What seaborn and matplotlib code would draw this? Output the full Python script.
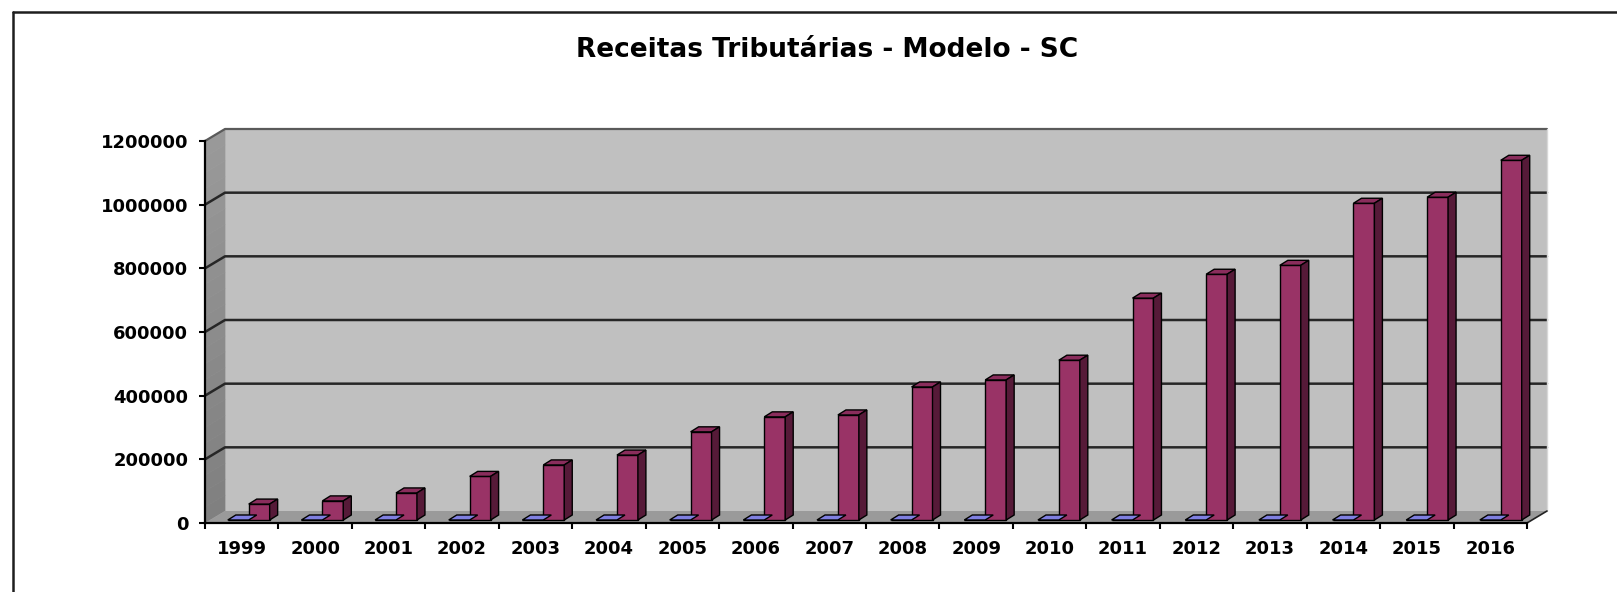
import matplotlib
matplotlib.use("Agg")
import matplotlib.pyplot as plt
from matplotlib.patches import Polygon, Rectangle
from matplotlib.lines import Line2D
from matplotlib.ticker import FixedLocator, NullFormatter
import seaborn as sns
import pandas as pd

# Data
anos = ["1999", "2000", "2001", "2002", "2003", "2004", "2005", "2006", "2007",
        "2008", "2009", "2010", "2011", "2012", "2013", "2014", "2015", "2016"]
serie_base = [0, 0, 0, 0, 0, 0, 0, 0, 0, 0, 0, 0, 0, 0, 0, 0, 0, 0]
receitas = [50000, 60000, 85000, 137000, 173000, 204000, 277000, 324000, 330000,
            418000, 440000, 502000, 697000, 772000, 800000, 995000, 1014000, 1130000]
y_ticks = [0, 200000, 400000, 600000, 800000, 1000000, 1200000]
titulo = "Receitas Tributárias - Modelo - SC"

W, H, DPI = 1617, 592, 100

df = pd.DataFrame({
    "ano": anos * 2,
    "valor": serie_base + receitas,
    "serie": ["base"] * len(anos) + ["receita"] * len(anos),
})

sns.set_style("white")
plt.rcParams["font.family"] = ["DejaVu Sans"]
plt.rcParams["font.weight"] = "bold"
plt.rcParams["text.color"] = "black"
plt.rcParams["xtick.color"] = "black"
plt.rcParams["ytick.color"] = "black"

fig = plt.figure(figsize=(W / DPI, H / DPI), dpi=DPI)
ax = fig.add_axes([205 / W, 1 - 523 / H, (1527 - 205) / W, (523 - 141) / H])
ax.set_facecolor("none")

cores = {"base": "#9999ff", "receita": "#993366"}
topos = {"base": "#7f7fe0", "receita": "#8a2d5c"}
lados = {"base": "#5555aa", "receita": "#561a38"}

sns.barplot(data=df, x="ano", y="valor", hue="serie", palette=cores,
            width=0.57, dodge=True, legend=False, ax=ax,
            edgecolor="black", linewidth=1.0, saturation=1, zorder=5)

n = len(anos)
ax.set_xlim(-0.5, n - 0.5)
ax.set_ylim(0, 1200000)

# pixel -> data conversion (axes geometry is fixed)
p0 = ax.transData.transform((0, 0))
p1 = ax.transData.transform((1, 1))
px_x = p1[0] - p0[0]
px_y = p1[1] - p0[1]


def off(dx, dy):
    return dx / px_x, dy / px_y


# back wall, left wall and floor
bx, by = off(20, 12)
x0, x1 = -0.5, n - 0.5
ytop = 1200000
ax.add_patch(Rectangle((x0 + bx, by), n, ytop, facecolor="#c0c0c0",
                       edgecolor="none", zorder=0, clip_on=False))
# left wall with a light vertical gradient
faixas = 24
for k in range(faixas):
    ya = ytop * k / faixas
    yb = ytop * (k + 1) / faixas
    g = 0.50 + 0.10 * (k / (faixas - 1))
    ax.add_patch(Polygon([(x0, ya), (x0, yb), (x0 + bx, yb + by), (x0 + bx, ya + by)],
                         closed=True, facecolor=(g, g, g), edgecolor=(g, g, g),
                         lw=0.5, zorder=1, clip_on=False))
ax.add_patch(Polygon([(x0, 0), (x1, 0), (x1 + bx, by), (x0 + bx, by)],
                     closed=True, facecolor="#9a9a9a", edgecolor="none",
                     zorder=1.1, clip_on=False))
ax.add_line(Line2D([x1, x1 + bx], [0, by], color="#222222", lw=1.2,
                   zorder=2, clip_on=False))
ax.add_line(Line2D([x1 + bx, x1 + bx], [by, ytop + by], color="#d8d8d8", lw=1.0,
                   zorder=1.5, clip_on=False))

# gridlines running across the left wall and the back wall
for v in y_ticks[1:-1]:
    ax.add_line(Line2D([x0, x0 + bx, x1 + bx], [v, v + by, v + by],
                       color="#262626", lw=1.8, zorder=1.2, clip_on=False))
ax.add_line(Line2D([x0, x0 + bx, x1 + bx], [ytop, ytop + by, ytop + by],
                   color="#5a5a5a", lw=1.6, zorder=1.2, clip_on=False))

# shift the columns to mid-depth and add their top and side faces
dx, dy = off(8, 5)
for nome, cont in zip(["base", "receita"], ax.containers):
    for i, bar in enumerate(cont):
        sx, sy = off(7 + 3.5 * i / (n - 1), 3)
        bar.set_x(bar.get_x() + sx)
        bar.set_y(sy)
        bar.set_clip_on(False)
        a = bar.get_x()
        b = a + bar.get_width()
        y0 = bar.get_y()
        t = y0 + bar.get_height()
        ax.add_patch(Polygon([(a, t), (b, t), (b + dx, t + dy), (a + dx, t + dy)],
                             closed=True, facecolor=topos[nome], edgecolor="black",
                             lw=1.0, zorder=5, clip_on=False))
        if bar.get_height() > 0:
            ax.add_patch(Polygon([(b, y0), (b + dx, y0 + dy), (b + dx, t + dy), (b, t)],
                                 closed=True, facecolor=lados[nome], edgecolor="black",
                                 lw=1.0, zorder=5, clip_on=False))

# axes, ticks and labels
for s in ["top", "right"]:
    ax.spines[s].set_visible(False)
for s in ["left", "bottom"]:
    ax.spines[s].set_color("black")
    ax.spines[s].set_linewidth(1.6)
    ax.spines[s].set_zorder(6)

ax.set_yticks(y_ticks)
ax.set_yticklabels([str(v) for v in y_ticks])
ax.set_xticks(range(n))
ax.set_xticklabels(anos)
ax.xaxis.set_minor_locator(FixedLocator([i - 0.5 for i in range(n + 1)]))
ax.xaxis.set_minor_formatter(NullFormatter())
ax.tick_params(axis="x", which="major", length=0, pad=12, labelsize=13,
               labelcolor="black")
ax.tick_params(axis="x", which="minor", length=4, width=1.5, direction="out",
               color="black", bottom=True)
ax.tick_params(axis="y", length=4, width=1.5, direction="out", color="black",
               pad=8, labelsize=13, left=True, labelcolor="black")
for lab in ax.get_xticklabels() + ax.get_yticklabels():
    lab.set_fontweight("bold")
ax.set_xlabel("")
ax.set_ylabel("")
ax.grid(False)

fig.text(827 / W, 1 - 50 / H, titulo, ha="center", va="center",
         fontsize=19, fontweight="bold", color="black")

# outer frame (top and left edges)
fig.add_artist(Line2D([12.5 / W, 12.5 / W], [0, 1 - 11.5 / H], transform=fig.transFigure,
                      color="#1e1e1e", lw=1.8))
fig.add_artist(Line2D([12.5 / W, 1], [1 - 11.5 / H, 1 - 11.5 / H], transform=fig.transFigure,
                      color="#1e1e1e", lw=1.8))

fig.savefig("out.png", dpi=DPI, facecolor="white")
